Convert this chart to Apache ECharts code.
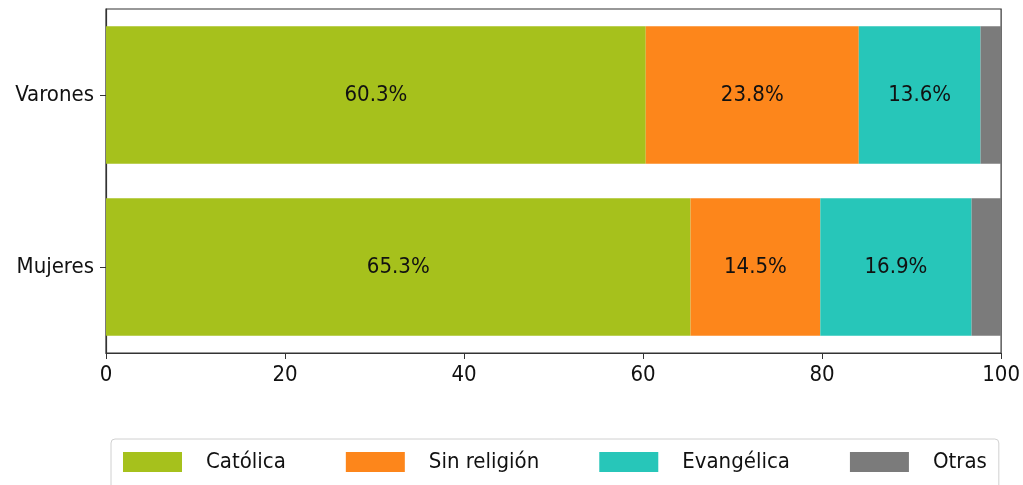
<!DOCTYPE html>
<html><head><meta charset="utf-8">
<script src="https://cdn.jsdelivr.net/npm/echarts@6/dist/echarts.min.js"></script>
<style>html,body{margin:0;padding:0;background:#fff}#c{width:1023px;height:485px}</style>
</head><body><div id="c"></div>
<script>
const categories = ['Mujeres', 'Varones'];
const catolica = [65.3, 60.3];
const sinReligion = [14.5, 23.8];
const evangelica = [16.9, 13.6];
const otras = [3.3, 2.3];
const seriesNames = ['Católica', 'Sin religión', 'Evangélica', 'Otras'];
const colors = ['#a6c11c', '#fd861b', '#27c6b9', '#7b7b7b'];
const xTicks = [0, 20, 40, 60, 80, 100];

const FONT = '"Liberation Sans Narrow", "DejaVu Sans Condensed", sans-serif';
const chart = echarts.init(document.getElementById('c'), null, {renderer: 'canvas'});
const data = [catolica, sinReligion, evangelica, otras];
chart.setOption({
  animation: false,
  textStyle: {fontFamily: FONT},
  grid: {left: 106, right: 17, top: 9, bottom: 132, show: true, borderColor: '#333', borderWidth: 1.2},
  xAxis: {
    type: 'value', min: 0, max: 100, interval: 20,
    axisLine: {show: true, onZero: false, lineStyle: {color: '#333', width: 1.2}},
    axisTick: {show: true, length: 6, lineStyle: {color: '#333'}},
    axisLabel: {color: '#111', fontSize: 22, fontFamily: FONT, margin: 11,
      formatter: v => xTicks.includes(v) ? String(v) : ''},
    splitLine: {show: false}
  },
  yAxis: {
    type: 'category', data: categories,
    axisLine: {show: true, lineStyle: {color: '#333', width: 1.2}},
    axisTick: {show: true, length: 6, alignWithLabel: true, lineStyle: {color: '#333'}},
    axisLabel: {color: '#111', fontSize: 22, fontFamily: FONT, margin: 12}
  },
  legend: {
    data: seriesNames, bottom: -10, left: 111,
    itemWidth: 59, itemHeight: 20, itemGap: 60,
    padding: [12, 12, 22, 12],
    borderColor: '#d0d0d0', borderWidth: 1, borderRadius: 4,
    icon: 'rect',
    textStyle: {fontSize: 22, color: '#111', fontFamily: FONT, padding: [0, 0, 0, 19]}
  },
  series: data.map((d, i) => ({
    name: seriesNames[i], type: 'bar', stack: 'total', data: d,
    barWidth: '80%',
    itemStyle: {color: colors[i]},
    label: {show: i < 3, position: 'inside', color: '#111', fontSize: 22, fontFamily: FONT,
      formatter: p => p.value.toFixed(1) + '%'}
  }))
});
</script></body></html>
